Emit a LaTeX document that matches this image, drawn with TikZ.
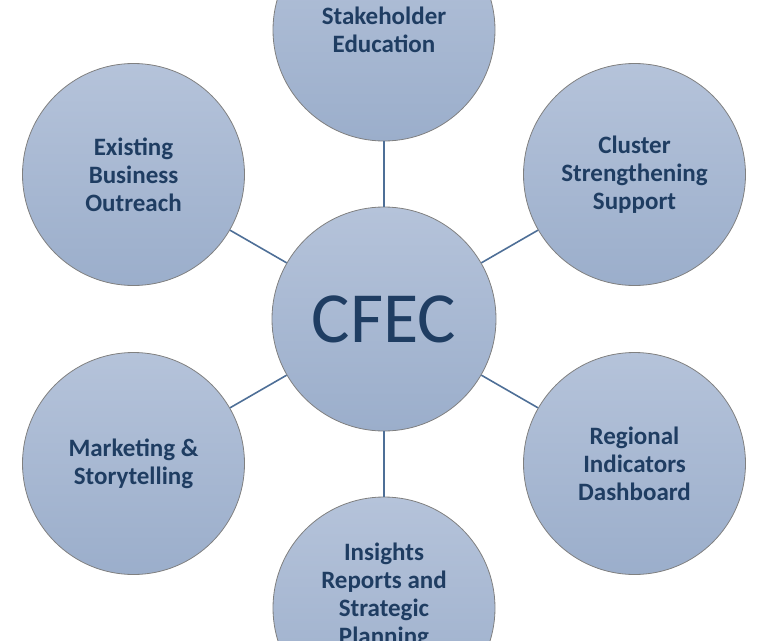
\documentclass[tikz,border=0pt]{standalone}
\usepackage{fontspec}
\setmainfont{Carlito}
\definecolor{txt}{HTML}{1F3D62}
\definecolor{topc}{HTML}{B5C3DA}
\definecolor{botc}{HTML}{9BAECB}
\definecolor{rim}{HTML}{808080}
\definecolor{link}{HTML}{4E6F97}
\begin{document}
\begin{tikzpicture}[x=1pt,y=-1pt,
  bubble/.style={circle,minimum size=222pt,inner sep=0pt,top color=topc,bottom color=botc,draw=rim,line width=0.8pt,text=txt,align=center,font=\fontsize{25}{28}\selectfont\bfseries},
  hub/.style={bubble,minimum size=224pt,font=\fontsize{72}{80}\selectfont},
  spoke/.style={draw=link,line width=1.6pt}]
\useasboundingbox (0,0) rectangle (768,640);
\node[hub] (c) at (384,319) {CFEC};
\node[bubble] (t) at (384,30) {Stakeholder\\Education};
\node[bubble] (ul) at (133.5,174.5) {Existing\\Business\\Outreach};
\node[bubble] (ur) at (634.5,174.5) {Cluster\\Strengthening\\Support};
\node[bubble] (ll) at (133.5,463.5) {Marketing \&\\Storytelling};
\node[bubble] (lr) at (634.5,463.5) {Regional\\Indicators\\Dashboard};
\node[bubble,label={[yshift=12pt,text=txt,align=center,font=\fontsize{25}{28}\selectfont\bfseries]center:Insights\\Reports and\\Strategic\\Planning}] (b) at (384,608) {};
\draw[spoke] (c) -- (t);
\draw[spoke] (c) -- (ul);
\draw[spoke] (c) -- (ur);
\draw[spoke] (c) -- (ll);
\draw[spoke] (c) -- (lr);
\draw[spoke] (c) -- (b);
\end{tikzpicture}
\end{document}
